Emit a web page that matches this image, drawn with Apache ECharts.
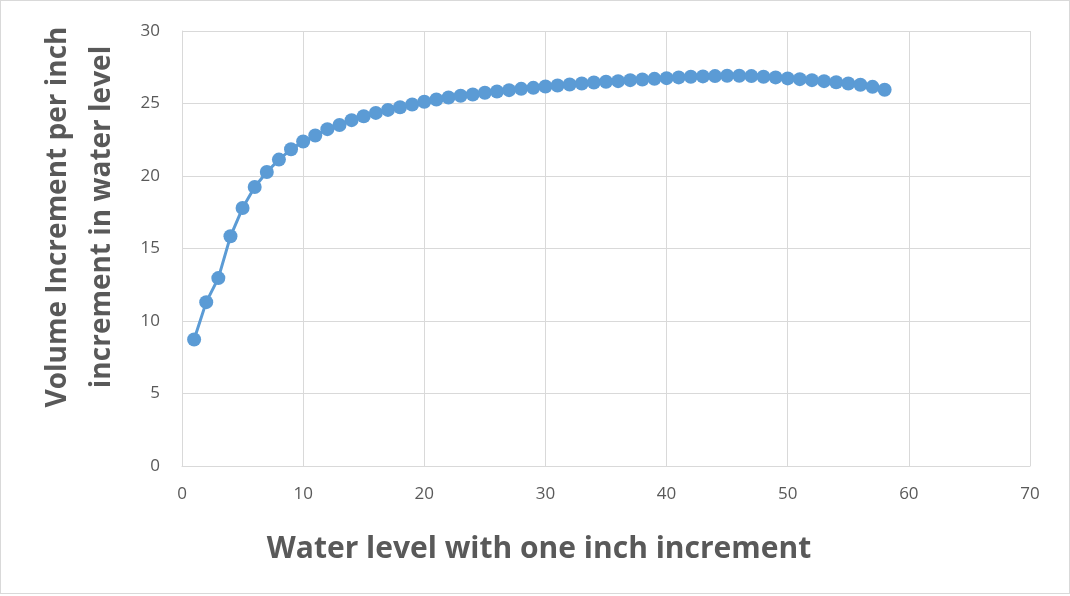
<!DOCTYPE html>
<html>
<head>
<meta charset="utf-8">
<script src="https://cdn.jsdelivr.net/npm/echarts@6/dist/echarts.min.js"></script>
<style>
  html, body { margin: 0; padding: 0; background: #fff; }
  #chart { position: absolute; left: 0; top: 0; width: 1068px; height: 592px; border: 1px solid #d9d9d9; }
</style>
</head>
<body>
<div id="chart"></div>
<script>
// water level (inches) and volume increment per inch
const waterLevel = [
  1, 2, 3, 4, 5, 6, 7, 8, 9, 10, 11, 12, 13, 14, 15, 16, 17, 18, 19, 20,
  21, 22, 23, 24, 25, 26, 27, 28, 29, 30, 31, 32, 33, 34, 35, 36, 37, 38, 39, 40,
  41, 42, 43, 44, 45, 46, 47, 48, 49, 50, 51, 52, 53, 54, 55, 56, 57, 58
];
const volumeIncrement = [
  8.72, 11.30, 12.96, 15.84, 17.79, 19.24, 20.28, 21.13, 21.84, 22.38,
  22.79, 23.23, 23.52, 23.85, 24.12, 24.35, 24.56, 24.74, 24.93, 25.12,
  25.28, 25.41, 25.53, 25.62, 25.74, 25.83, 25.92, 26.01, 26.08, 26.17,
  26.24, 26.31, 26.38, 26.45, 26.50, 26.54, 26.61, 26.66, 26.70, 26.75,
  26.80, 26.84, 26.87, 26.89, 26.91, 26.91, 26.89, 26.84, 26.80, 26.73,
  26.68, 26.61, 26.54, 26.47, 26.38, 26.29, 26.15, 25.95
];
const xTicks = { min: 0, max: 70, interval: 10 };
const yTicks = { min: 0, max: 30, interval: 5 };

const chart = echarts.init(document.getElementById("chart"));

const labelColor = "#595959";
const gridColor = "#d9d9d9";

chart.setOption({
  animation: false,
  grid: { left: 181, right: 39, top: 30, bottom: 127 },
  xAxis: {
    type: "value",
    min: xTicks.min,
    max: xTicks.max,
    interval: xTicks.interval,
    axisLine: { show: true, lineStyle: { color: gridColor } },
    axisTick: { show: false },
    splitLine: { lineStyle: { color: gridColor, width: 1 } },
    axisLabel: { color: labelColor, fontSize: 17, fontFamily: "Open Sans", margin: 20 }
  },
  yAxis: {
    type: "value",
    min: yTicks.min,
    max: yTicks.max,
    interval: yTicks.interval,
    axisLine: { show: true, lineStyle: { color: gridColor } },
    axisTick: { show: false },
    splitLine: { lineStyle: { color: gridColor, width: 1 } },
    axisLabel: { color: labelColor, fontSize: 17, fontFamily: "Open Sans", margin: 22 }
  },
  graphic: [
    {
      type: "text",
      x: 538, y: 548,
      style: {
        text: "Water level with one inch increment",
        fill: labelColor,
        font: "bold 30px 'Open Sans'",
        align: "center",
        verticalAlign: "middle"
      }
    },
    {
      type: "text",
      x: 79, y: 216,
      rotation: Math.PI / 2,
      style: {
        text: "Volume Increment per inch\nincrement in water level",
        fill: labelColor,
        font: "bold 28px 'Open Sans'",
        lineHeight: 44,
        align: "center",
        verticalAlign: "middle"
      }
    }
  ],
  series: [
    {
      type: "line",
      data: waterLevel.map((x, i) => [x, volumeIncrement[i]]),
      symbol: "circle",
      symbolSize: 14,
      lineStyle: { color: "#5b9bd5", width: 3 },
      itemStyle: { color: "#5b9bd5" }
    }
  ]
});
</script>
</body>
</html>
